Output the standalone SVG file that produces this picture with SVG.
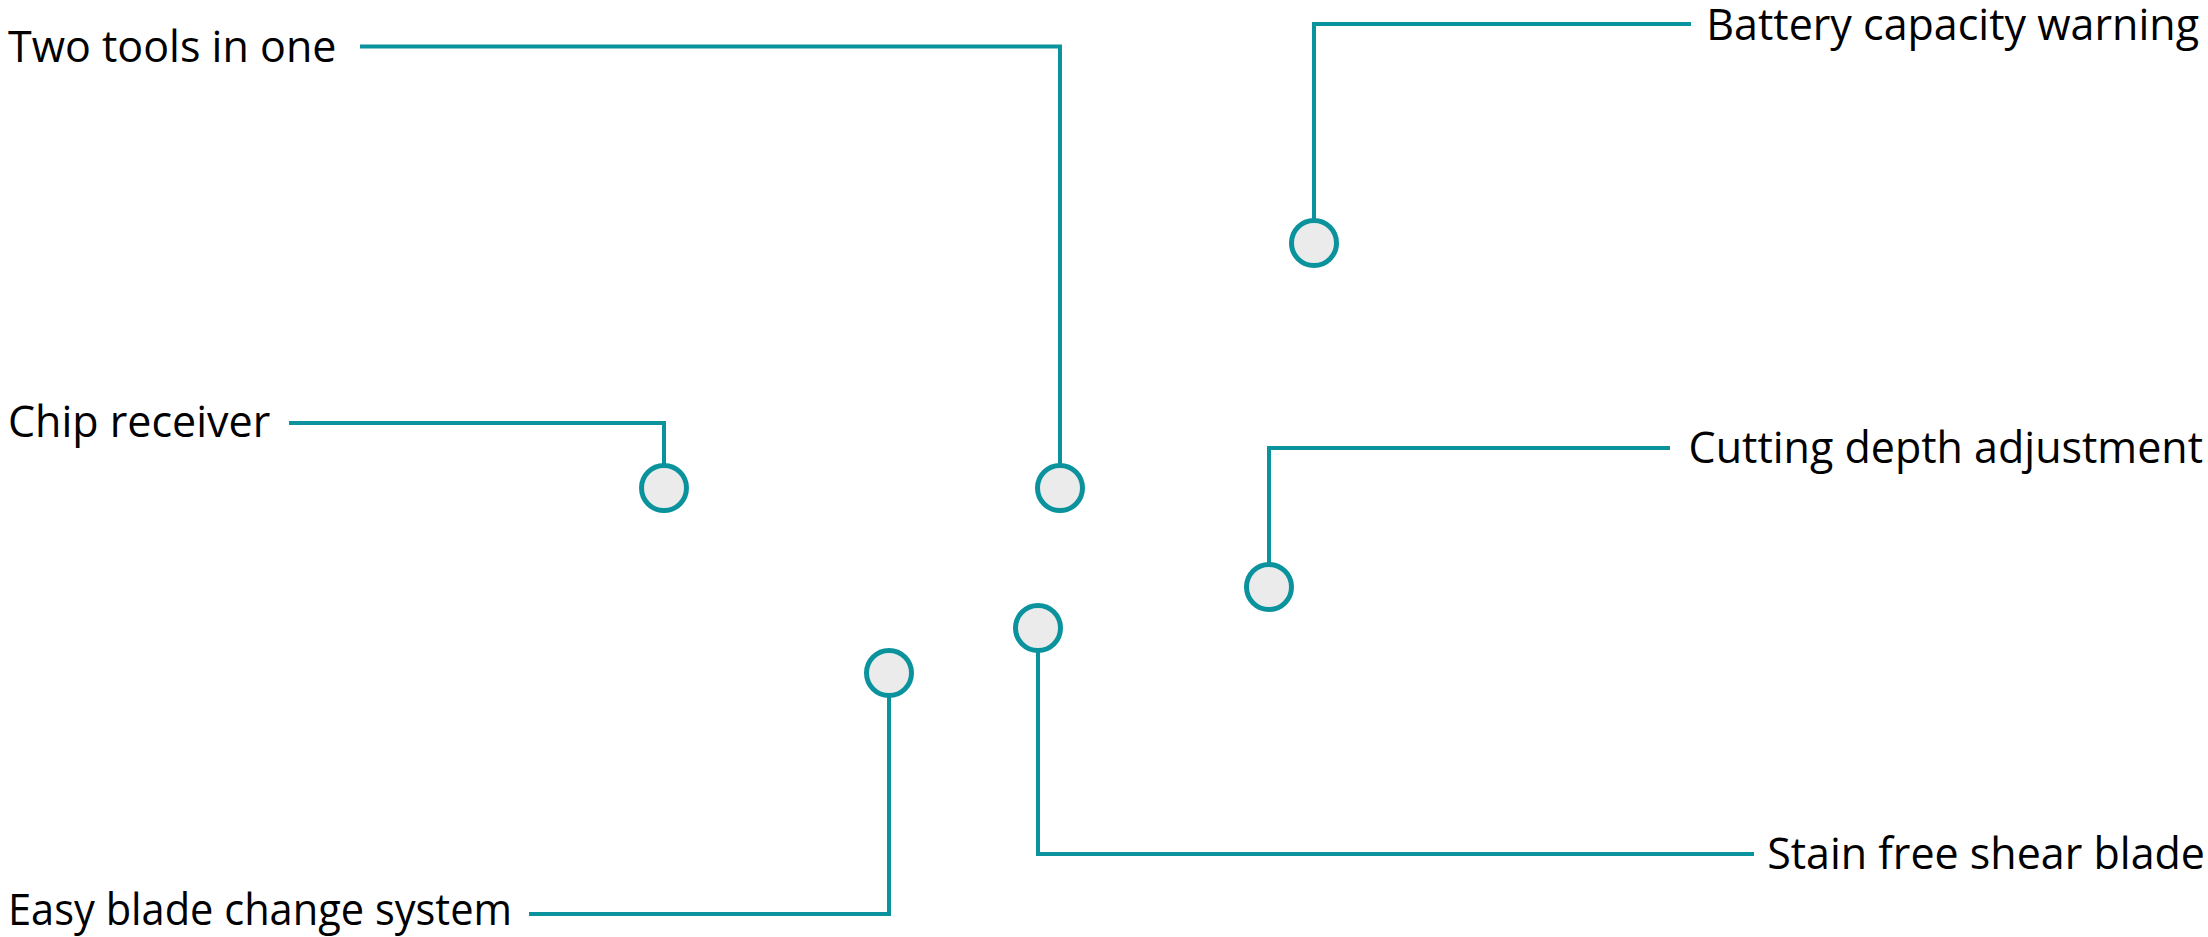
<svg xmlns="http://www.w3.org/2000/svg" width="2208" height="937" viewBox="0 0 2208 937">
<style>
.lbl{font-family:"Open Sans","Noto Sans","Liberation Sans",sans-serif;font-size:43px;fill:#000}
.end{text-anchor:end}
.conn{fill:none;stroke:#0a939c;stroke-width:4}
.dot{fill:#ebebeb;stroke:#0a939c;stroke-width:5}
</style>
<rect width="2208" height="937" fill="#fff"/>
<g id="connectors">
<path class="conn" d="M360,46.5 H1060 V465.5"/>
<path class="conn" d="M1691,24 H1314 V220.5"/>
<path class="conn" d="M289,423 H664 V465.5"/>
<path class="conn" d="M1670,448 H1269 V564.5"/>
<path class="conn" d="M1038,650.5 V854 H1754"/>
<path class="conn" d="M889,695.5 V914 H529"/>
</g>
<g id="two-tools"><circle class="dot" cx="1060" cy="488" r="22.5"/><text class="lbl" x="8" y="62">Two tools in one</text></g>
<g id="battery"><circle class="dot" cx="1314" cy="243" r="22.5"/><text class="lbl end" x="2199" y="40">Battery capacity warning</text></g>
<g id="chip"><circle class="dot" cx="664" cy="488" r="22.5"/><text class="lbl" x="8" y="437">Chip receiver</text></g>
<g id="cutting"><circle class="dot" cx="1269" cy="587" r="22.5"/><text class="lbl end" x="2203" y="463">Cutting depth adjustment</text></g>
<g id="stain"><circle class="dot" cx="1038" cy="628" r="22.5"/><text class="lbl end" x="2205" y="869">Stain free shear blade</text></g>
<g id="easy"><circle class="dot" cx="889" cy="673" r="22.5"/><text class="lbl" x="8" y="925" textLength="504" lengthAdjust="spacingAndGlyphs">Easy blade change system</text></g>
</svg>
